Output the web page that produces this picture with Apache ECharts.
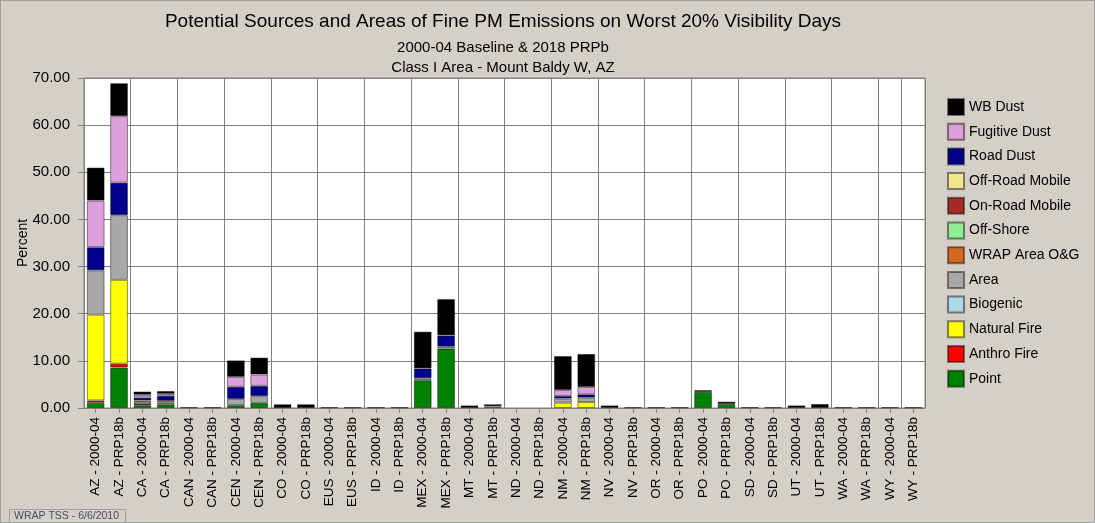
<!DOCTYPE html>
<html>
<head>
<meta charset="utf-8">
<script src="https://cdn.jsdelivr.net/npm/echarts@6/dist/echarts.min.js"></script>
<style>
  html, body { margin: 0; padding: 0; background: #d4d0c8; }
  #chart { width: 1095px; height: 523px; box-sizing: border-box; border: 1px solid #a0a0a0; }
</style>
</head>
<body>
<div id="chart"></div>
<script>
  // 地区与情景
  const regions = ['AZ', 'CA', 'CAN', 'CEN', 'CO', 'EUS', 'ID', 'MEX', 'MT', 'ND', 'NM', 'NV', 'OR', 'PO', 'SD', 'UT', 'WA', 'WY'];
  const scenarios = ['2000-04', 'PRP18b'];
  const categories = [];
  regions.forEach((r) => scenarios.forEach((s) => categories.push(r + ' - ' + s)));

  const yTicks = [0, 10, 20, 30, 40, 50, 60, 70];

  // 每个来源，顺序与 categories 一致（36 个）
  const point = [1.1, 8.6, 0.5, 0.8, 0, 0, 0.6, 1.1, 0, 0, 0, 0, 0, 0, 5.9, 12.6, 0, 0, 0, 0, 0, 0, 0, 0, 0, 0, 3.4, 0.85, 0, 0, 0, 0, 0, 0, 0, 0];
  const anthroFire = [0.5, 0.8, 0.2, 0, 0, 0, 0, 0, 0, 0, 0, 0, 0, 0, 0, 0, 0, 0, 0, 0, 0, 0, 0, 0, 0, 0, 0, 0, 0, 0, 0, 0, 0, 0, 0, 0];
  const naturalFire = [18.2, 17.8, 0.1, 0.3, 0, 0, 0, 0, 0, 0, 0, 0, 0, 0, 0, 0, 0, 0, 0, 0, 1.13, 1.27, 0, 0, 0, 0, 0, 0, 0, 0, 0, 0, 0, 0, 0, 0];
  const biogenic = [0, 0, 0, 0, 0, 0, 0, 0, 0, 0, 0, 0, 0, 0, 0, 0, 0, 0, 0, 0, 0, 0, 0, 0, 0, 0, 0, 0, 0, 0, 0, 0, 0, 0, 0, 0];
  const area = [9.4, 13.7, 0.5, 0.4, 0, 0, 1.3, 1.4, 0, 0, 0, 0, 0, 0, 0.4, 0.4, 0, 0, 0, 0, 0.85, 0.92, 0, 0, 0, 0, 0, 0, 0, 0, 0, 0, 0, 0, 0, 0];
  const wrapOG = [0, 0, 0.3, 0, 0, 0, 0, 0, 0, 0, 0, 0, 0, 0, 0, 0, 0, 0, 0, 0, 0, 0, 0, 0, 0, 0, 0, 0, 0, 0, 0, 0, 0, 0, 0, 0];
  const offShore = [0, 0, 0, 0, 0, 0, 0, 0, 0, 0, 0, 0, 0, 0, 0, 0, 0, 0, 0, 0, 0, 0, 0, 0, 0, 0, 0, 0, 0, 0, 0, 0, 0, 0, 0, 0];
  const onRoad = [0, 0, 0, 0, 0, 0, 0, 0, 0, 0, 0, 0, 0, 0, 0, 0, 0, 0, 0, 0, 0, 0, 0, 0, 0, 0, 0, 0, 0, 0, 0, 0, 0, 0, 0, 0];
  const offRoad = [0, 0, 0, 0, 0, 0, 0, 0, 0, 0, 0, 0, 0, 0, 0, 0, 0, 0, 0, 0, 0, 0, 0, 0, 0, 0, 0, 0, 0, 0, 0, 0, 0, 0, 0, 0];
  const roadDust = [4.9, 6.9, 0.6, 1.1, 0, 0, 2.6, 2.2, 0, 0, 0, 0, 0, 0, 2.1, 2.4, 0, 0, 0, 0, 0.57, 0.71, 0, 0, 0, 0, 0, 0, 0, 0, 0, 0, 0, 0, 0, 0];
  const fugitiveDust = [9.9, 14.1, 0.6, 0.4, 0, 0, 2.1, 2.4, 0, 0, 0, 0, 0, 0, 0, 0, 0, 0.35, 0, 0, 1.27, 1.56, 0, 0, 0, 0, 0, 0, 0, 0, 0, 0, 0, 0, 0, 0];
  const wbDust = [7.0, 7.0, 0.7, 0.6, 0.15, 0.15, 3.5, 3.6, 0.8, 0.8, 0.15, 0.15, 0.15, 0.15, 7.8, 7.7, 0.55, 0.45, 0, 0, 7.2, 7.0, 0.55, 0.15, 0.15, 0.15, 0.4, 0.5, 0.15, 0.15, 0.55, 0.85, 0.15, 0.15, 0.15, 0.15];

  // 自下而上的堆叠顺序
  const sources = [
    { name: 'Point', data: point, color: '#008000' },
    { name: 'Anthro Fire', data: anthroFire, color: '#ff0000' },
    { name: 'Natural Fire', data: naturalFire, color: '#ffff00' },
    { name: 'Biogenic', data: biogenic, color: '#add8e6' },
    { name: 'Area', data: area, color: '#a9a9a9' },
    { name: 'WRAP Area O&G', data: wrapOG, color: '#d2691e' },
    { name: 'Off-Shore', data: offShore, color: '#90ee90' },
    { name: 'On-Road Mobile', data: onRoad, color: '#a52a2a' },
    { name: 'Off-Road Mobile', data: offRoad, color: '#f0e68c' },
    { name: 'Road Dust', data: roadDust, color: '#00008b' },
    { name: 'Fugitive Dust', data: fugitiveDust, color: '#dda0dd' },
    { name: 'WB Dust', data: wbDust, color: '#000000' },
  ];

  const font = 'Arial, "Liberation Sans", sans-serif';
  const chart = echarts.init(document.getElementById('chart'));

  const option = {
    backgroundColor: '#d4d0c8',
    animation: false,
    textStyle: { fontFamily: font },
    title: [
      {
        text: 'Potential Sources and Areas of Fine PM Emissions on Worst 20% Visibility Days',
        left: 497, top: 6, textAlign: 'center',
        textStyle: { fontSize: 19, fontWeight: 'normal', color: '#000', fontFamily: font },
      },
      {
        text: '2000-04 Baseline & 2018 PRPb',
        left: 497, top: 34, textAlign: 'center',
        textStyle: { fontSize: 15, fontWeight: 'normal', color: '#000', fontFamily: font },
      },
      {
        text: 'Class I Area - Mount Baldy W, AZ',
        left: 497, top: 54, textAlign: 'center',
        textStyle: { fontSize: 15, fontWeight: 'normal', color: '#000', fontFamily: font },
      },
    ],
    legend: {
      orient: 'vertical',
      left: 941,
      top: 92,
      itemWidth: 16,
      itemHeight: 16,
      itemGap: 6.7,
      icon: 'rect',
      data: sources.map((s) => s.name).reverse(),
      textStyle: { fontSize: 14, color: '#000', fontFamily: font },
    },
    grid: {
      left: 83, top: 77, width: 841, height: 330,
      show: true, backgroundColor: '#fff', borderColor: '#808080', borderWidth: 1,
    },
    xAxis: {
      type: 'category',
      data: categories,
      axisLine: { lineStyle: { color: '#808080' } },
      axisTick: { show: true, alignWithLabel: true, interval: 0, length: 5, lineStyle: { color: '#808080' } },
      axisLabel: { rotate: 90, interval: 0, fontSize: 13.5, color: '#000', margin: 9, fontFamily: font },
      splitLine: { show: true, interval: 1, lineStyle: { color: '#808080', width: 1 } },
    },
    yAxis: {
      type: 'value',
      min: yTicks[0],
      max: yTicks[yTicks.length - 1],
      interval: 10,
      name: 'Percent',
      nameLocation: 'middle',
      nameGap: 54,
      nameRotate: 90,
      nameMoveOverlap: false,
      nameTextStyle: { fontSize: 14, color: '#000', fontFamily: font },
      axisLine: { show: true, lineStyle: { color: '#808080' } },
      axisTick: { show: true, length: 6, lineStyle: { color: '#808080' } },
      axisLabel: { fontSize: 15, color: '#000', margin: 14, formatter: (v) => v.toFixed(2), fontFamily: font },
      splitLine: { show: true, lineStyle: { color: '#808080', width: 1 } },
    },
    graphic: [
      {
        type: 'rect',
        left: 8, top: 508,
        shape: { width: 116, height: 13 },
        style: { fill: '#d4d0c8', stroke: '#a0a0a0', lineWidth: 1 },
      },
      {
        type: 'text',
        left: 13, top: 510,
        style: { text: 'WRAP TSS - 6/6/2010', fontSize: 10.5, fill: '#4a4a6a', fontFamily: font },
      },
    ],
    series: sources.map((s) => ({
      name: s.name,
      type: 'bar',
      stack: 'total',
      barWidth: '76%',
      data: s.data.map((v) => (v === 0 ? null : v)),
      itemStyle: { color: s.color, borderColor: 'rgba(0,0,0,0.45)', borderWidth: 1 },
    })),
  };

  chart.setOption(option);
</script>
</body>
</html>
